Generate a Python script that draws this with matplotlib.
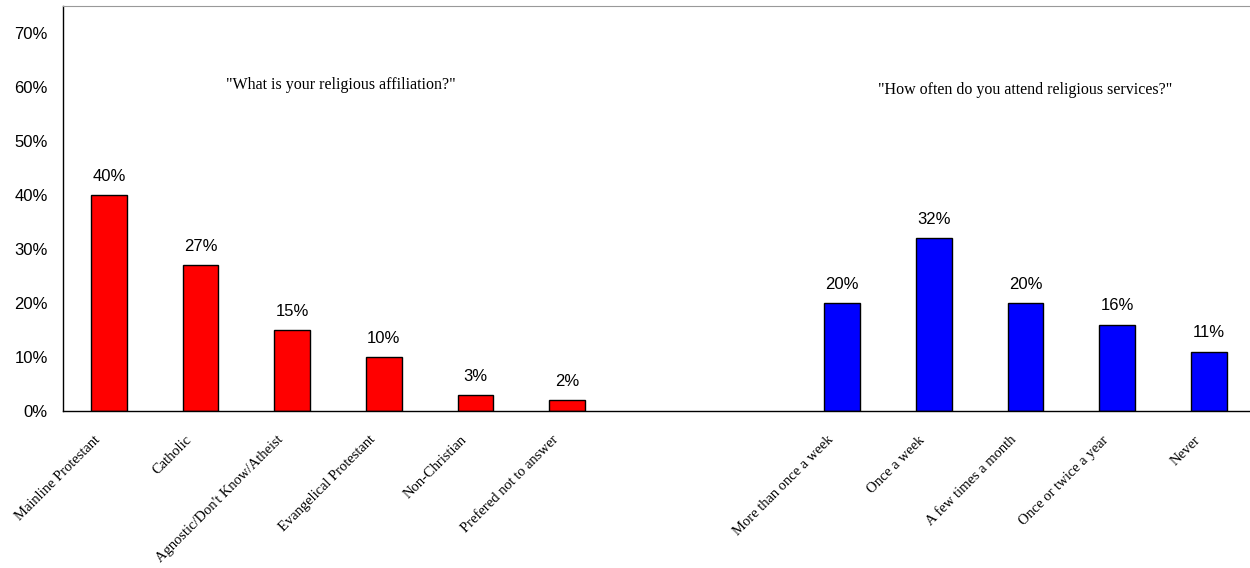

# bar chart of religious affiliation and service attendance survey answers
import matplotlib
matplotlib.use("Agg")
import matplotlib.pyplot as plt
from matplotlib.transforms import ScaledTranslation

'''data'''
affil_labels = ["Mainline Protestant", "Catholic", "Agnostic/Don't Know/Atheist",
                "Evangelical Protestant", "Non-Christian", "Prefered not to answer"]
affil_values = [40, 27, 15, 10, 3, 2]

attend_labels = ["More than once a week", "Once a week", "A few times a month",
                 "Once or twice a year", "Never"]
attend_values = [20, 32, 20, 16, 11]

yticks = [0, 10, 20, 30, 40, 50, 60, 70]

# x positions: two groups with a gap of two empty slots between them
affil_x = list(range(len(affil_values)))
attend_x = [len(affil_values) + 2 + i for i in range(len(attend_values))]

serif = "Liberation Serif"
sans = "Liberation Sans"

fig = plt.figure(figsize=(12.5, 5.68), dpi=100)
ax = fig.add_axes([0.0504, 0.2764, 0.9496, 0.713])

ax.bar(affil_x, affil_values, width=0.39, color="#ff0000", edgecolor="black", linewidth=1.0)
ax.bar(attend_x, attend_values, width=0.39, color="#0000ff", edgecolor="black", linewidth=1.0)

# value labels above each bar
for x, v in zip(affil_x + attend_x, affil_values + attend_values):
    ax.annotate("{}%".format(v), (x, v), xytext=(0, 8), textcoords="offset points",
                ha="center", va="bottom", fontsize=12, family=sans)

ax.set_xlim(-0.5, 12.45)
ax.set_ylim(0, 75)
ax.set_yticks(yticks)
ax.set_yticklabels(["{}%".format(t) for t in yticks], family=sans, fontsize=12)
ax.tick_params(axis="y", length=0, pad=11)

ax.set_xticks(affil_x + attend_x)
ax.set_xticklabels(affil_labels + attend_labels, rotation=45, ha="right",
                   family=serif, fontsize=10.5)
ax.tick_params(axis="x", length=0, pad=16)
shift = ScaledTranslation(-6 / 100, 0, fig.dpi_scale_trans)
for lab in ax.get_xticklabels():
    lab.set_transform(lab.get_transform() + shift)

# spines: left and bottom black, top gray, no right one
ax.spines["right"].set_visible(False)
ax.spines["top"].set_color("#999999")
ax.spines["left"].set_linewidth(1.0)
ax.spines["bottom"].set_linewidth(1.0)

# question captions inside the plot
ax.text(2.53, 60.4, "\"What is your religious affiliation?\"", ha="center", va="center",
        family=serif, fontsize=11.5)
ax.text(10.0, 59.4, "\"How often do you attend religious services?\"", ha="center",
        va="center", family=serif, fontsize=11.5)

fig.savefig("out.png", dpi=100)
